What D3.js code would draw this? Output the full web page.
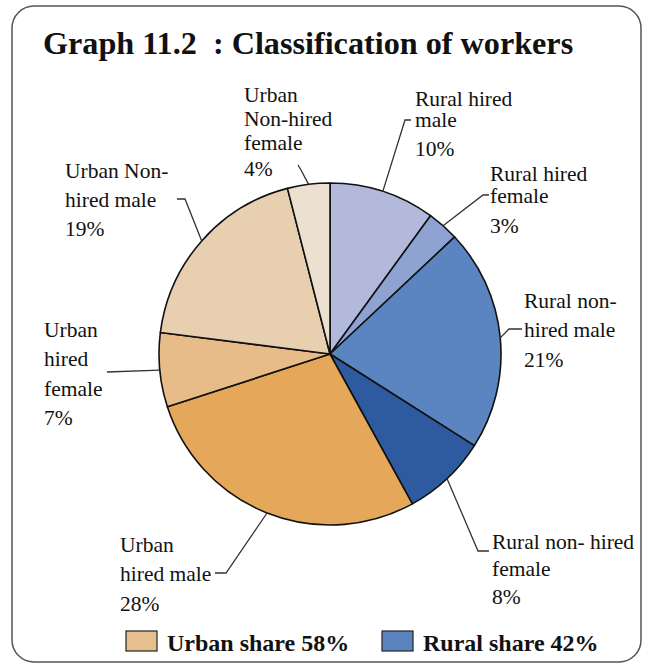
<!DOCTYPE html>
<html>
<head>
<meta charset="utf-8">
<script src="https://cdn.jsdelivr.net/npm/d3@7"></script>
<style>
  html, body { margin: 0; padding: 0; background: #fff; }
  svg text { font-family: "Liberation Serif", "Times New Roman", serif; }
</style>
</head>
<body>
<svg id="chart" width="645" height="666"></svg>
<script>
// Worker categories, clockwise from 12 o'clock
const categories = [
  "Rural hired male", "Rural hired female", "Rural non-hired male", "Rural non-hired female",
  "Urban hired male", "Urban hired female", "Urban Non-hired male", "Urban Non-hired female"
];
const shares = [10, 3, 21, 8, 28, 7, 19, 4];
const groups = ["Rural", "Rural", "Rural", "Rural", "Urban", "Urban", "Urban", "Urban"];
const sliceColors = ["#b3b9db", "#8ea3d1", "#5b85c0", "#2e5a9f", "#e5a85b", "#e8bc88", "#e8cfaf", "#ece0d0"];

// Label text lines for each slice (last line is the percentage)
const labelLines = [
  ["Rural hired", "male"],
  ["Rural hired", "female"],
  ["Rural non-", "hired male"],
  ["Rural non- hired", "female"],
  ["Urban", "hired male"],
  ["Urban", "hired", "female"],
  ["Urban Non-", "hired male"],
  ["Urban", "Non-hired", "female"]
];

const legendGroups = ["Urban", "Rural"];
const legendColors = ["#e6c08e", "#5a84c0"];

const title = "Graph 11.2  : Classification of workers";

// ---- layout ----
const svg = d3.select("#chart");
const cx = 330, cy = 354, radius = 171;

svg.append("rect")
  .attr("x", 12).attr("y", 6)
  .attr("width", 629).attr("height", 656)
  .attr("rx", 22).attr("ry", 22)
  .attr("fill", "#fff")
  .attr("stroke", "#555").attr("stroke-width", 1.5);

svg.append("text")
  .attr("x", 43).attr("y", 54)
  .attr("font-size", 32.2)
  .attr("font-weight", "bold")
  .style("white-space", "pre")
  .attr("fill", "#111")
  .text(title);

const pie = d3.pie().sort(null).value(d => d)(shares);
const arc = d3.arc().innerRadius(0).outerRadius(radius);
const edge = d3.arc().innerRadius(radius).outerRadius(radius);

const g = svg.append("g").attr("transform", `translate(${cx},${cy})`);
g.selectAll("path.slice")
  .data(pie)
  .join("path")
  .attr("class", "slice")
  .attr("d", arc)
  .attr("fill", (d, i) => sliceColors[i])
  .attr("stroke", "#111")
  .attr("stroke-width", 1.6)
  .attr("stroke-linejoin", "round");

// Label placement: text origin, baselines, and leader elbow points
const labelPos = [
  { x: 415, ys: [106, 127, 156], leader: [[405, 120], [411, 120]] },
  { x: 490, ys: [181, 203, 233], leader: [[483, 195], [489, 195]] },
  { x: 524, ys: [308, 337, 367], leader: [[509, 329], [522, 329]] },
  { x: 492, ys: [549, 576, 604], leader: [[478, 551], [489, 551]] },
  { x: 120, ys: [552, 581, 611], leader: [[226, 573], [215, 573]] },
  { x: 44,  ys: [337, 366, 396, 425], leader: [[107, 372]] },
  { x: 65,  ys: [178, 207, 236], leader: [[185, 199], [177, 199]] },
  { x: 244, ys: [102, 126, 150, 176], leader: [[301, 170], [298, 165]] }
];

pie.forEach((d, i) => {
  const [ex, ey] = edge.centroid(d);
  const pts = [[cx + ex, cy + ey]].concat(labelPos[i].leader);
  svg.append("path")
    .attr("d", d3.line()(pts))
    .attr("fill", "none")
    .attr("stroke", "#333")
    .attr("stroke-width", 1.3);

  const lines = labelLines[i].concat([d.data + "%"]);
  const t = svg.append("text")
    .attr("font-size", 21.5)
    .attr("fill", "#111");
  lines.forEach((ln, k) => {
    t.append("tspan")
      .attr("x", labelPos[i].x)
      .attr("y", labelPos[i].ys[k])
      .text(ln);
  });
});

// Legend: group totals summed from the slice shares
const totals = legendGroups.map(gr => d3.sum(shares.filter((v, i) => groups[i] === gr)));
const legendX = [126, 382];
legendGroups.forEach((gr, i) => {
  svg.append("rect")
    .attr("x", legendX[i]).attr("y", 631)
    .attr("width", 31).attr("height", 20)
    .attr("fill", legendColors[i])
    .attr("stroke", "#222").attr("stroke-width", 1.2);
  svg.append("text")
    .attr("x", legendX[i] + 41).attr("y", 651)
    .attr("font-size", 24)
    .attr("font-weight", "bold")
    .attr("fill", "#111")
    .text(`${gr} share ${totals[i]}%`);
});
</script>
</body>
</html>
